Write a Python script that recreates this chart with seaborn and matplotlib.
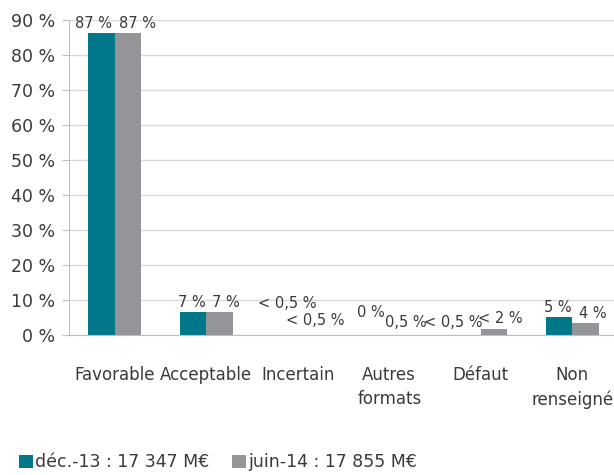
import pandas as pd
import matplotlib
matplotlib.use("Agg")
import matplotlib.pyplot as plt
import seaborn as sns

categories = ["Favorable", "Acceptable", "Incertain", "Autres\nformats", "Défaut", "Non\nrenseigné"]
series = ["déc.-13 : 17 347 M€", "juin-14 : 17 855 M€"]
dec13 = [86.2, 6.6, 0.2, 0.0, 0.2, 5.1]
jun14 = [86.2, 6.6, 0.2, 0.1, 1.7, 3.5]
dec13_labels = ["87 %", "7 %", "< 0,5 %", "0 %", "< 0,5 %", "5 %"]
jun14_labels = ["87 %", "7 %", "< 0,5 %", "0,5 %", "< 2 %", "4 %"]

# label offsets in pixels (dx from category centre, dy above bar top)
dec_off = [(-21, 10), (-14, 10), (-11, 31), (-18, 23), (-27, 12), (-14, 10)]
jun_off = [(23, 10), (20, 10), (17, 14), (17, 12), (20, 11), (21, 10)]

colors = ["#00788A", "#939598"]
text_color = "#3A3A3A"

df = pd.DataFrame({
    "cat": categories * 2,
    "val": dec13 + jun14,
    "serie": [series[0]] * 6 + [series[1]] * 6,
})

sns.set_style("white")
plt.rcParams["font.family"] = ["DejaVu Sans"]
plt.rcParams["text.color"] = text_color

fig = plt.figure(figsize=(6.14, 4.75), dpi=100)
ax = fig.add_axes([69 / 614, 139.7 / 475, 549 / 614, 315.3 / 475])

sns.barplot(data=df, x="cat", y="val", hue="serie", palette=colors,
            width=0.58, saturation=1, linewidth=0, ax=ax, legend=True)

ax.set_ylim(0, 90)
ax.set_xlim(-0.5, 5.5)
ax.set_yticks(range(0, 91, 10))
ax.set_yticklabels([f"{v} %" for v in range(0, 91, 10)], fontsize=12.5, color=text_color)
ax.yaxis.grid(True, color="#D9D9D9", lw=1)
ax.set_axisbelow(True)
for s in ["top", "right"]:
    ax.spines[s].set_visible(False)
ax.spines["left"].set_color("#BFBFBF")
ax.spines["bottom"].set_color("#BFBFBF")
ax.set_xlabel("")
ax.set_ylabel("")

# category boundary ticks
ax.set_xticks([i - 0.5 for i in range(6)], minor=False)
ax.set_xticklabels([])
ax.set_xticks(range(6), minor=True)
ax.set_xticklabels(categories, minor=True, fontsize=12, color=text_color, linespacing=1.45)
ax.tick_params(axis="x", which="major", length=6, color="#BFBFBF", direction="out")
ax.tick_params(axis="x", which="minor", length=0, pad=22)
ax.tick_params(axis="y", length=5, color="#BFBFBF", direction="out", pad=5, left=True)

for i in range(6):
    for vals, labs, offs in [(dec13, dec13_labels, dec_off), (jun14, jun14_labels, jun_off)]:
        ax.annotate(labs[i], xy=(i, vals[i]), xytext=offs[i], textcoords="offset pixels",
                    ha="center", va="center", fontsize=10.5, color=text_color)

leg = ax.legend(loc="lower left", bbox_to_anchor=(-57 / 549, -143 / 315.3), ncol=2,
                frameon=False, fontsize=12.5, handlelength=0.8, handleheight=0.8,
                handletextpad=0.15, columnspacing=1.3, borderaxespad=0)
for t in leg.get_texts():
    t.set_color(text_color)

fig.savefig("out.png", dpi=100)
